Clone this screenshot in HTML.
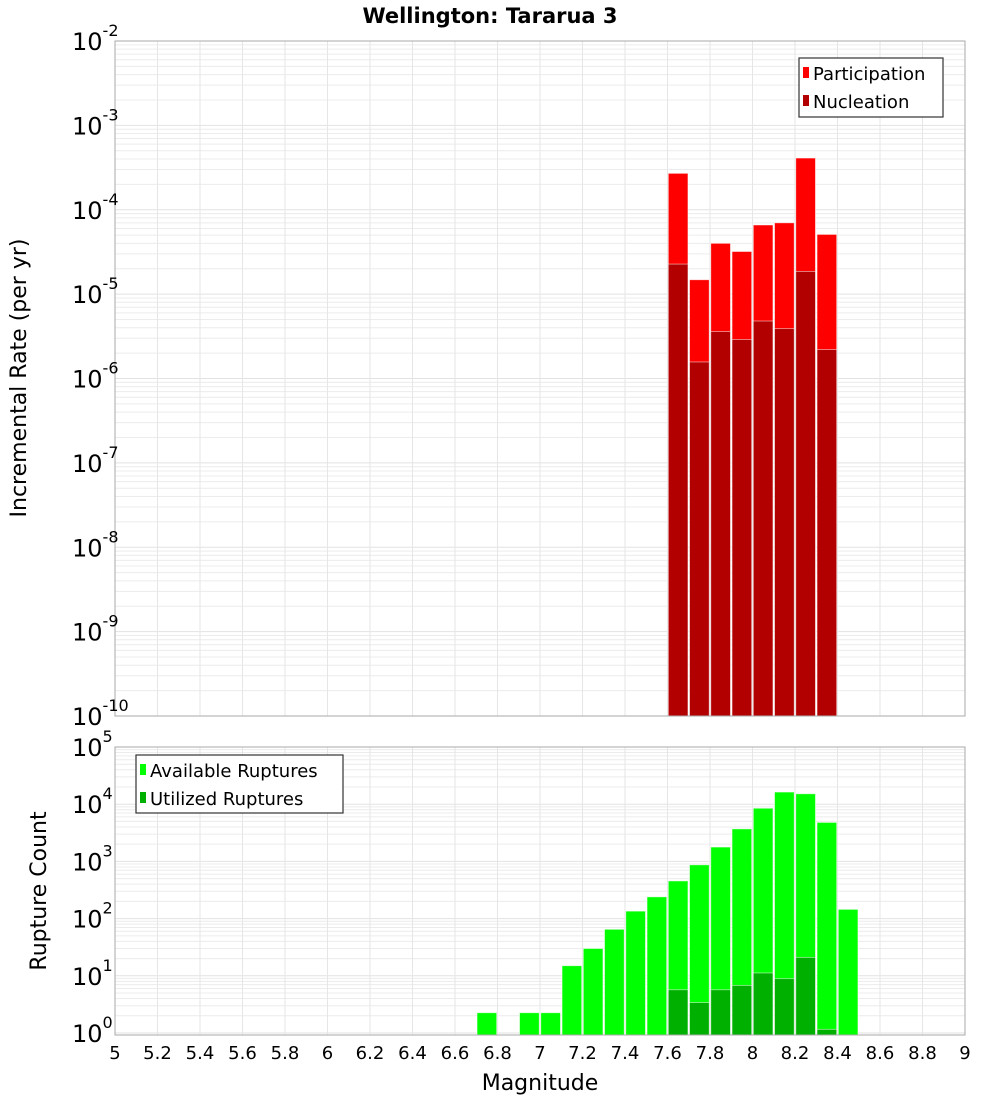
<!DOCTYPE html>
<html><head><meta charset="utf-8"><style>
html,body{margin:0;padding:0;background:#fff}
svg{display:block;font-family:"DejaVu Sans","Liberation Sans",sans-serif}
</style></head><body>
<svg id="chart" width="1000" height="1100" viewBox="0 0 1000 1100" xmlns="http://www.w3.org/2000/svg">
<text x="490" y="23" text-anchor="middle" font-size="21" font-weight="bold">Wellington: Tararua 3</text>
<g id="topPanel"></g>
<g id="bottomPanel"></g>
<text transform="translate(26,378) rotate(-90)" text-anchor="middle" font-size="22">Incremental Rate (per yr)</text>
<text transform="translate(46,891) rotate(-90)" text-anchor="middle" font-size="22">Rupture Count</text>
<text x="540" y="1090" text-anchor="middle" font-size="22">Magnitude</text>
</svg>
<script>
const mags = [7.6,7.7,7.8,7.9,8.0,8.1,8.2,8.3];
const participation = [2.7e-4,1.48e-5,4.0e-5,3.2e-5,6.6e-5,7.0e-5,4.1e-4,5.1e-5];
const nucleation = [2.27e-5,1.57e-6,3.6e-6,2.9e-6,4.8e-6,3.9e-6,1.86e-5,2.2e-6];
const availMags = [6.7,6.9,7.0,7.1,7.2,7.3,7.4,7.5,7.6,7.7,7.8,7.9,8.0,8.1,8.2,8.3,8.4];
const available = [2.26,2.26,2.26,15,30,65,135,240,455,870,1780,3700,8500,16300,15200,4800,145];
const utilMags = [7.6,7.7,7.8,7.9,8.0,8.1,8.2,8.3];
const utilized = [5.7,3.4,5.7,6.8,11.2,8.9,21,1.16];
const xTicks = [5,5.2,5.4,5.6,5.8,6,6.2,6.4,6.6,6.8,7,7.2,7.4,7.6,7.8,8,8.2,8.4,8.6,8.8,9];
const topExps = [-2,-3,-4,-5,-6,-7,-8,-9,-10];
const botExps = [5,4,3,2,1,0];

const NS="http://www.w3.org/2000/svg";
const X0=115,X1=965;
function xs(m){return X0+(m-5)/4*(X1-X0);}
const BW=(X1-X0)/40;
function ytop(v){return 41+84.375*(-2-Math.log10(v));}
function ybot(v){return 1033-57.2*Math.log10(v);}
function mk(tag,attrs,parent){const e=document.createElementNS(NS,tag);for(const k in attrs)e.setAttribute(k,attrs[k]);parent.appendChild(e);return e;}

function panel(g,yT,yB,yfn,minExp,maxExp,name){
  mk('rect',{x:X0,y:yT,width:X1-X0,height:yB-yT,fill:'#fff'},g);
  for(let e=minExp;e<maxExp+1;e++){
    for(let k=1;k<10;k++){
      if(e===maxExp&&k>1)break;
      const y=yfn(k*Math.pow(10,e));
      if(y<yT||y>yB)continue;
      const l=mk('line',{x1:X0,x2:X1,y1:y,y2:y,stroke:k===1?'#e2e2e2':'#ececec','stroke-width':1},g);
      
      
    }
  }
  xTicks.forEach(t=>{
    const l=mk('line',{x1:xs(t),x2:xs(t),y1:yT,y2:yB,stroke:'#e6e6e6','stroke-width':1},g);
    
    
  });
}
function border(g,yT,yB,name){
  const r=mk('rect',{x:X0,y:yT,width:X1-X0,height:yB-yT,fill:'none',stroke:'#aaa','stroke-width':1},g);
  
  
}
function bar(g,m,v,yfn,yB,color,name){
  const y=yfn(v);
  const r=mk('rect',{x:xs(m)+0.8,y:y,width:BW-1.6,height:yB-y,fill:color,stroke:'#fff','stroke-opacity':0.6,'stroke-width':0.8},g);
  
  
}
function ylabel(g,e,y,name){
  const t=mk('text',{x:72,y:y+9,'font-size':24},g);
  
  
  const a=document.createElementNS(NS,'tspan');a.textContent='10';t.appendChild(a);
  const b=document.createElementNS(NS,'tspan');b.setAttribute('dy','-14');b.setAttribute('font-size','16');b.textContent=String(e);t.appendChild(b);
}

const gTop=document.getElementById('topPanel');
panel(gTop,41,716,ytop,-10,-2,'top');
mags.forEach((m,i)=>bar(gTop,m,participation[i],ytop,716,'#ff0000','participation-bar'));
mags.forEach((m,i)=>bar(gTop,m,nucleation[i],ytop,716,'#b20000','nucleation-bar'));
border(gTop,41,716,'top');
topExps.forEach(e=>ylabel(gTop,e,ytop(Math.pow(10,e)),'top-y-tick-label'));

const gBot=document.getElementById('bottomPanel');
panel(gBot,747,1035,ybot,-1,5,'bottom');
availMags.forEach((m,i)=>bar(gBot,m,available[i],ybot,1035,'#00ff00','available-bar'));
utilMags.forEach((m,i)=>bar(gBot,m,utilized[i],ybot,1035,'#00b000','utilized-bar'));
border(gBot,747,1035,'bottom');
botExps.forEach(e=>ylabel(gBot,e,ybot(Math.pow(10,e)),'bottom-y-tick-label'));

xTicks.forEach(t=>{
  const tx=mk('text',{x:xs(t),y:1059,'text-anchor':'middle','font-size':18},gBot);
  
  
  tx.textContent=String(t);
});

function legend(x,y,w,h,items,name){
  const g=mk('g',{},document.getElementById('chart'));
  
  
  mk('rect',{x:x,y:y,width:w,height:h,fill:'#fff',stroke:'#333','stroke-width':1.2},g);
  items.forEach((it,i)=>{
    const cy=y+15+i*28;
    const s=mk('rect',{x:x+4,y:cy-6,width:6,height:11,fill:it[1]},g);
    
    
    const t=mk('text',{x:x+14,y:cy+7,'font-size':18},g);
    
    
    t.textContent=it[0];
  });
}
legend(799,58,144,59,[['Participation','#ff0000'],['Nucleation','#b20000']],'top-legend');
legend(136,755,207,58,[['Available Ruptures','#00ff00'],['Utilized Ruptures','#00b000']],'bottom-legend');
</script>
</body></html>
